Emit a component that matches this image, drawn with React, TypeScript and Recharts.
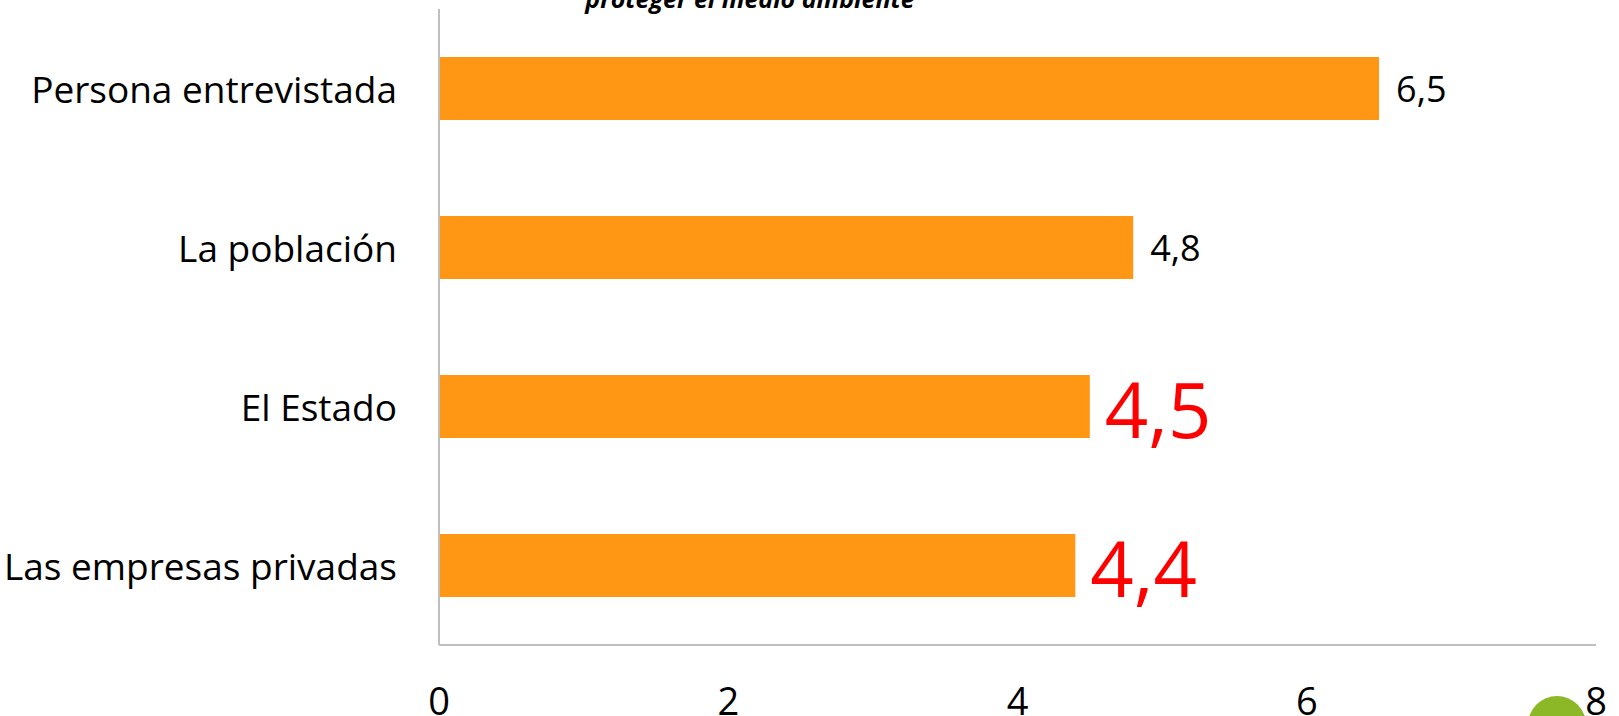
import React from "react";
import { BarChart, Bar, XAxis, YAxis, LabelList } from "recharts";

const categories = ["Persona entrevistada", "La población", "El Estado", "Las empresas privadas"];
const scores = [6.5, 4.8, 4.5, 4.4];
const xTicks = [0, 2, 4, 6, 8];
const title = "proteger el medio ambiente";

const chartData = categories.map((name, i) => ({ name, score: scores[i] }));

const FONT = "'Open Sans', Lato, sans-serif";

// los dos últimos valores van resaltados en rojo y grandes
const ValueLabel = (props: any) => {
  const { x, y, width, height, value, index } = props;
  const big = index >= 2;
  return (
    <text
      x={x + width + (big ? 15 : 17)}
      y={y + height / 2 + (big ? 2 : 0)}
      dominantBaseline="central"
      fill={big ? "#FF0000" : "#000000"}
      fontSize={big ? 76 : 36}
      fontFamily={FONT}
    >
      {String(value).replace(".", ",")}
    </text>
  );
};

const XTick = ({ x, y, payload }: any) => (
  <text x={x} y={y + 55} textAnchor="middle" dominantBaseline="central" fontSize={38} fontFamily={FONT} fill="#000">
    {payload.value}
  </text>
);

const YTick = ({ x, y, payload }: any) => (
  <text x={x - 42} y={y} textAnchor="end" dominantBaseline="central" fontSize={37} fontFamily={FONT} fill="#000">
    {payload.value}
  </text>
);

const App = () => {
  return (
    <div style={{ position: "absolute", left: 0, top: 0, width: 1619, height: 716, overflow: "hidden", background: "#fff" }}>
      <div
        style={{
          position: "absolute",
          left: 1557 - 29,
          top: 725 - 29,
          width: 58,
          height: 58,
          borderRadius: "50%",
          background: "#8CB828",
        }}
      />
      <svg width={1619} height={40} style={{ position: "absolute", left: 0, top: 0 }}>
        <text
          x={750}
          y={8}
          textAnchor="middle"
          fontFamily={FONT}
          fontWeight="bold"
          fontStyle="italic"
          fontSize={25}
          fill="#000"
        >
          {title}
        </text>
      </svg>
      <div style={{ position: "absolute", left: 0, top: 0 }}>
        <BarChart
          width={1619}
          height={716}
          data={chartData}
          layout="vertical"
          margin={{ top: 9, right: 23, bottom: 0, left: 0 }}
          barCategoryGap={48}
        >
          <XAxis
            type="number"
            domain={[0, 8]}
            ticks={xTicks}
            tickLine={false}
            tickSize={0}
            tickMargin={0}
            height={71}
            stroke="#BFBFBF"
            strokeWidth={2}
            tick={<XTick />}
            interval={0}
          />
          <YAxis
            type="category"
            dataKey="name"
            width={439}
            tickLine={false}
            tickSize={0}
            tickMargin={0}
            stroke="#BFBFBF"
            strokeWidth={2}
            tick={<YTick />}
          />
          <Bar dataKey="score" fill="#FF9714" barSize={63} isAnimationActive={false}>
            <LabelList dataKey="score" content={<ValueLabel />} />
          </Bar>
        </BarChart>
      </div>
    </div>
  );
};

export default App;
